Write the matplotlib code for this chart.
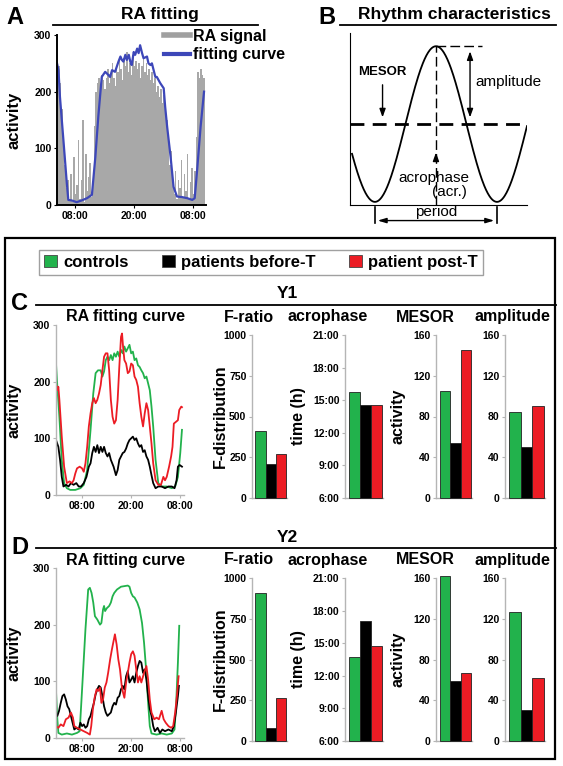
import numpy as np
import matplotlib
matplotlib.use('Agg')
import matplotlib.pyplot as plt
from matplotlib.lines import Line2D
from matplotlib.patches import Rectangle, Patch

# Step 1: data
# panel A: raw RA signal (one bar every 0.3 h, starting 04:18) and fitting curve
ra_signal = [230, 245, 215, 170, 125, 70, 30, 45,
             10, 55, 5, 85, 20, 35, 115, 10, 45, 150, 5, 90, 25, 50, 75, 15, 40,
             140, 200, 215, 225, 210, 230, 220, 205, 225, 240, 215, 230, 250, 225, 210,
             245, 235, 255, 240, 220, 260, 245, 270, 235, 250, 230, 265, 245, 255, 240,
             250, 225, 245, 260, 235, 250, 230, 240, 220, 235, 215, 225, 200, 210, 190,
             205, 180, 195, 170,
             150, 110, 70, 95, 40, 20, 60, 10, 45, 30, 80, 15, 55, 25, 90, 10, 40, 65,
             20, 60, 120,
             235, 225, 240, 230, 225]
fit_hours = [4.3, 4.6, 4.9, 5.6, 6.3, 6.6, 7.3, 8.3, 9.3, 10.4, 11.4, 12.1, 12.7, 13.4,
             14.1, 14.8, 15.1, 15.5, 16.1, 16.8, 17.2, 17.5, 17.8, 18.2, 18.5, 18.9, 19.2,
             19.5, 19.9, 20.2, 20.6, 20.9, 21.2, 21.6, 21.9, 22.6, 22.9, 23.3, 23.6, 24.3,
             24.6, 25.3, 26.0, 26.3, 26.7, 27.4, 28.0, 28.7, 29.7, 30.8, 31.8, 32.3, 32.8,
             33.5, 34.2]
fit_curve = [250, 238, 191, 115, 38, 9, 8, 5, 8, 12, 18, 85, 156, 226, 235, 229, 226, 238,
             235, 253, 262, 256, 253, 265, 256, 265, 253, 247, 270, 265, 276, 268, 282,
             268, 259, 262, 250, 247, 250, 226, 226, 215, 206, 173, 138, 85, 32, 15, 14,
             12, 9, 12, 62, 138, 200]

# panel C (Y1) RA fitting curves
y1_ctrl_h = [1.5, 1.83, 2.33, 2.92, 3.5, 4.17, 5, 6.25, 7.5, 8.33, 9.17, 10, 10.67, 11.25,
             11.83, 12.5, 12.92, 13.33, 13.75, 14.17, 14.58, 15, 15.42, 15.83, 16.25, 16.67,
             17.08, 17.5, 17.92, 18.33, 18.75, 19.17, 19.58, 20, 20.42, 20.83, 21.25, 21.67,
             22.08, 22.5, 22.92, 23.33, 23.75, 24.17, 24.58, 25, 25.42, 26, 26.67, 27.5,
             28.75, 30, 30.83, 31.5, 32.08, 32.5]
y1_ctrl = [232, 191, 138, 62, 21, 12, 9, 9, 12, 18, 44, 115, 179, 215, 220, 220, 209, 218,
           238, 244, 238, 247, 238, 250, 244, 253, 244, 256, 250, 262, 253, 259, 265, 250,
           253, 238, 241, 229, 226, 220, 215, 206, 209, 197, 185, 156, 121, 62, 21, 15,
           15, 12, 15, 32, 74, 115]
y1_post_h = [1.5, 1.83, 2.08, 2.33, 2.92, 3.5, 4.17, 4.83, 5.42, 5.83, 6.25, 6.67, 7.33,
             7.92, 8.33, 8.75, 9.17, 9.58, 10, 10.42, 10.83, 11.25, 11.67, 12.08, 12.5,
             12.92, 13.33, 13.75, 14.17, 14.58, 15, 15.42, 15.83, 16.25, 16.67, 17.08, 17.5,
             17.75, 18, 18.33, 18.75, 19.17, 19.58, 20, 20.42, 20.83, 21.25, 21.67, 22.08,
             22.5, 22.92, 23.33, 23.75, 24.17, 24.58, 25, 25.42, 26, 26.67, 27.33, 27.92,
             28.33, 28.75, 29.33, 29.83, 30.17, 30.5, 31, 31.5, 31.83, 32.33, 32.5]
y1_post = [197, 185, 191, 168, 103, 50, 21, 24, 21, 26, 38, 47, 50, 47, 41, 56, 85, 121,
           144, 162, 171, 162, 168, 179, 194, 220, 244, 250, 250, 220, 168, 138, 126, 132,
           168, 226, 279, 285, 262, 238, 232, 215, 218, 232, 229, 209, 203, 191, 162, 138,
           121, 144, 162, 150, 121, 91, 56, 26, 18, 18, 32, 26, 32, 50, 68, 85, 126, 129,
           132, 150, 156, 155]
y1_pre_h = [1.5, 2.08, 2.5, 2.92, 3.33, 4, 4.58, 5.17, 5.83, 6.5, 7.08, 7.67, 8.33, 9, 9.58,
            10, 10.42, 10.83, 11.25, 11.67, 12.08, 12.5, 12.92, 13.33, 13.75, 14.17, 14.58,
            15, 15.67, 16.25, 16.67, 17.08, 17.5, 17.92, 18.33, 18.75, 19.17, 19.58, 20,
            20.42, 20.83, 21.25, 21.67, 22.08, 22.5, 22.92, 23.33, 23.75, 24.17, 24.58, 25,
            25.42, 26, 26.67, 27.5, 28.33, 29.17, 30, 30.67, 31.17, 31.5, 31.92, 32.5]
y1_pre = [97, 85, 62, 32, 15, 18, 15, 21, 18, 21, 15, 15, 21, 32, 50, 56, 74, 85, 76, 88,
          74, 85, 76, 85, 74, 68, 74, 62, 50, 35, 44, 62, 68, 74, 76, 82, 91, 97, 100, 103,
          97, 100, 91, 85, 88, 76, 79, 68, 62, 50, 35, 21, 12, 15, 15, 12, 15, 15, 12, 26,
          50, 53, 50]

# panel D (Y2) RA fitting curves
y2_ctrl_h = [1.5, 1.83, 2.08, 2.92, 4.17, 5.42, 6.67, 7.33, 7.92, 8.75, 9.42, 9.83, 10.25,
             10.67, 11.08, 11.67, 12.33, 12.67, 13.08, 13.33, 13.58, 14, 14.58, 15, 15.42,
             15.83, 16.5, 17.5, 18.33, 19.17, 19.58, 20, 20.42, 20.83, 21.5, 22.08, 22.67,
             23.17, 23.67, 24.17, 24.58, 25, 26.25, 27.5, 28.75, 30, 30.67, 31.08, 31.5,
             31.83]
y2_ctrl = [83, 33, 9, 6, 8, 6, 9, 12, 86, 192, 262, 265, 256, 239, 215, 209, 200, 203, 227,
           233, 224, 229, 233, 239, 250, 256, 262, 267, 268, 269, 267, 256, 250, 248, 239,
           227, 203, 168, 121, 62, 21, 8, 6, 8, 6, 8, 15, 62, 133, 198]
y2_post_h = [1.5, 2.08, 2.67, 3.33, 3.92, 4.58, 5.17, 5.67, 6, 6.67, 7.5, 8.33, 9.17, 9.83,
             10.17, 10.58, 11, 11.5, 11.92, 12.33, 12.67, 13.08, 13.5, 13.92, 14.33, 14.83,
             15.25, 15.58, 16, 16.42, 16.83, 17.25, 17.67, 18, 18.33, 18.75, 19.17, 19.58,
             20, 20.42, 20.83, 21.25, 21.67, 22.08, 22.5, 23.17, 23.75, 24.17, 24.58, 25,
             25.67, 26.25, 26.83, 27.5, 28, 28.5, 29.17, 29.83, 30.33, 30.83, 31.25, 31.67]
y2_post = [21, 18, 24, 21, 33, 36, 45, 36, 21, 18, 15, 12, 9, 6, 21, 51, 71, 86, 83, 89,
           62, 68, 89, 98, 115, 139, 156, 168, 183, 165, 139, 121, 92, 80, 71, 98, 115, 133,
           148, 153, 145, 121, 98, 109, 98, 115, 127, 103, 68, 45, 33, 36, 33, 48, 33, 27,
           21, 18, 21, 45, 74, 109]
y2_pre_h = [1.5, 1.83, 2.25, 2.67, 3.08, 3.5, 3.92, 4.33, 4.75, 5.17, 5.58, 6, 6.5, 7.08,
            7.5, 7.92, 8.33, 8.75, 9.17, 9.58, 10, 10.42, 10.83, 11.25, 11.67, 12.08, 12.5,
            12.92, 13.33, 13.75, 14.17, 14.58, 15, 15.42, 15.83, 16.25, 16.67, 17.08, 17.5,
            17.92, 18.33, 18.75, 19.17, 19.58, 20, 20.42, 20.83, 21.25, 21.67, 22.08, 22.5,
            22.92, 23.33, 23.75, 24.17, 24.58, 25, 25.42, 25.83, 26.5, 27.08, 27.67, 28.33,
            29.17, 30, 30.5, 31, 31.5, 31.75]
y2_pre = [42, 39, 48, 62, 74, 77, 68, 56, 51, 39, 27, 15, 18, 15, 27, 21, 24, 18, 21, 33,
          39, 51, 62, 77, 86, 92, 89, 74, 56, 45, 39, 42, 45, 56, 62, 59, 71, 74, 86, 92,
          86, 109, 118, 98, 103, 109, 98, 115, 127, 136, 133, 115, 121, 103, 74, 51, 39,
          21, 12, 18, 9, 15, 12, 15, 12, 21, 45, 74, 92]

# rhythm parameters (controls, patients before-T, patient post-T)
groups = ['controls', 'patients before-T', 'patient post-T']
y1_fratio = [410, 210, 270]
y1_acro = [15.75, 14.6, 14.55]
y1_mesor = [105, 54, 145]
y1_amp = [84, 50, 90]
y2_fratio = [905, 80, 265]
y2_acro = [13.7, 17.0, 14.7]
y2_mesor = [162, 59, 67]
y2_amp = [127, 30, 62]

# schematic for panel B (arbitrary units)
b_period = 24
b_acrophase = 12
b_mesor = 0
b_amplitude = 1

clock_ticks = [8, 20, 32]
clock_labels = ['08:00', '20:00', '08:00']
acro_ticks = [6, 9, 12, 15, 18, 21]
acro_labels = ['6:00', '9:00', '12:00', '15:00', '18:00', '21:00']

colors = ['#22b24c', '#000000', '#ec1c24']
gray_spine = '#b5b5b5'

# Step 2: figure and pixel helpers
plt.rcParams['font.family'] = ['Liberation Sans', 'DejaVu Sans']
plt.rcParams['font.weight'] = 'bold'
plt.rcParams['axes.labelweight'] = 'bold'
W, H = 563, 766
fig = plt.figure(figsize=(W / 100, H / 100), dpi=100)


def fx(x):
    return x / W


def fy(y):
    return 1 - y / H


def px_box(l, t, r, b):
    return [l / W, 1 - b / H, (r - l) / W, (b - t) / H]


def hline(x0, x1, y, lw=1.3, color='black'):
    fig.add_artist(Line2D([fx(x0), fx(x1)], [fy(y), fy(y)], color=color, lw=lw))


# Step 3: panel A
fig.text(fx(15), fy(17), 'A', fontsize=17, ha='center', va='center')
fig.text(fx(160), fy(14), 'RA fitting', fontsize=12.5, ha='center', va='center')
hline(53, 258, 25)

axA = fig.add_axes(px_box(57, 35, 206, 205))
sig_hours = 4.3 + 0.3 * np.arange(len(ra_signal))
axA.bar(sig_hours, ra_signal, width=0.3, align='edge', color='#a8a8a8', linewidth=0)
axA.plot(fit_hours, fit_curve, color='#3d47b9', lw=1.6)
axA.set_xlim(4.3, 34.6)
axA.set_ylim(0, 300)
axA.set_yticks([0, 100, 200, 300])
axA.set_xticks(clock_ticks)
axA.set_xticklabels(clock_labels)
axA.tick_params(labelsize=7.5, length=2, width=0.8, pad=2)
for s in ['top', 'right']:
    axA.spines[s].set_visible(False)
axA.spines['left'].set_linewidth(1.4)
axA.spines['bottom'].set_linewidth(1.4)
axA.set_ylabel('activity', fontsize=12)
axA.yaxis.set_label_coords((22 - 57) / 149, 0.5)
axA.legend([Line2D([0], [0], color='#a0a0a0', lw=4), Line2D([0], [0], color='#3d47b9', lw=3)],
           ['RA signal', 'fitting curve'], loc='upper left', frameon=False,
           bbox_to_anchor=(fx(164), fy(29)), bbox_transform=fig.transFigure,
           fontsize=11.5, handlelength=1.6, handletextpad=0.2, labelspacing=0.2,
           borderpad=0, borderaxespad=0)

# Step 4: panel B (rhythm schematic)
fig.text(fx(327), fy(17), 'B', fontsize=17, ha='center', va='center')
fig.text(fx(454), fy(14), 'Rhythm characteristics', fontsize=12.5, ha='center', va='center')
hline(340, 556, 25)

axB = fig.add_axes(px_box(350, 33, 527, 205))
tt = np.linspace(-4.5, 29.9, 300)
axB.plot(tt, b_mesor - b_amplitude * np.cos(2 * np.pi * (tt - b_acrophase + b_period / 2) / b_period),
         color='black', lw=1.3)
axB.set_xlim(-4.9, 29.9)
axB.set_ylim(-1.04, 1.17)
for s in ['top', 'right']:
    axB.spines[s].set_visible(False)
axB.set_xticks([])
axB.set_yticks([])
axB.axhline(b_mesor, color='black', lw=2, dashes=(5, 3))
axB.plot([b_acrophase, b_acrophase], [-1.04, b_amplitude], color='black', lw=1, dashes=(7, 3))
axB.plot([b_acrophase, 21], [b_amplitude, b_amplitude], color='black', lw=1, dashes=(7, 3))
arr = dict(arrowstyle='<|-|>,head_length=0.5,head_width=0.18', color='black', lw=1)
axB.annotate('', xy=(18.7, 0.97), xytext=(18.7, 0.05), arrowprops=arr)
axB.text(19.7, 0.54, 'amplitude', fontsize=11, weight='normal', va='center', ha='left')
axB.text(1.4, 0.67, 'MESOR', fontsize=9.5, va='center', ha='center')
axB.annotate('', xy=(1.5, 0.05), xytext=(1.5, 0.54),
             arrowprops=dict(arrowstyle='-|>,head_length=0.5,head_width=0.18', color='black', lw=1))
axB.annotate('', xy=(b_acrophase, -0.33), xytext=(b_acrophase, -0.48),
             arrowprops=dict(arrowstyle='-|>,head_length=0.5,head_width=0.18', color='black', lw=1))
axB.text(11.6, -0.69, 'acrophase', fontsize=11, weight='normal', va='center', ha='center')
axB.text(14.7, -0.87, '(acr.)', fontsize=11, weight='normal', va='center', ha='center')
for xp in [0, b_period]:
    axB.plot([xp, xp], [-1.06, -1.27], color='black', lw=1.2, clip_on=False)
axB.annotate('', xy=(0, -1.24), xytext=(b_period, -1.24), annotation_clip=False,
             arrowprops=dict(arrowstyle='<|-|>,head_length=0.5,head_width=0.15', color='black', lw=1))
axB.text(12, -1.13, 'period', fontsize=11, weight='normal', va='center', ha='center', clip_on=False)

# Step 5: frame and group legend for C and D
fig.add_artist(Rectangle((fx(5), fy(759)), fx(555) - fx(5), fy(238) - fy(759),
                         transform=fig.transFigure, fill=False, edgecolor='black', lw=1.6))
handles = [Patch(facecolor=c, edgecolor='#444444', lw=0.6) for c in colors]
fig.legend(handles, groups, loc='center', bbox_to_anchor=(fx(261), fy(262)), ncol=3,
           fontsize=12, frameon=True, fancybox=False, edgecolor='#888888',
           handlelength=0.75, handleheight=0.75, handletextpad=0.4, columnspacing=2.0,
           borderpad=0.3)


# Step 6: panels C and D
def gray_axes(ax):
    for s in ['top', 'right']:
        ax.spines[s].set_visible(False)
    for s in ['left', 'bottom']:
        ax.spines[s].set_color(gray_spine)
        ax.spines[s].set_linewidth(1)
    ax.tick_params(labelsize=7.5, length=2.5, width=0.8, color=gray_spine, pad=1.5)


def bar_panel(l, r, t, b, vals, ylim, yticks, ylabels, ylabel=None, label_x=None):
    ax = fig.add_axes(px_box(l, t, r, b))
    heights = [v - ylim[0] for v in vals]
    ax.bar(range(3), heights, bottom=ylim[0], width=1.0, color=colors, edgecolor='#222222',
           linewidth=0.6, clip_on=False, zorder=3)
    ax.set_xlim(-0.83, 2.56)
    ax.set_ylim(*ylim)
    ax.set_yticks(yticks)
    ax.set_yticklabels(ylabels)
    ax.set_xticks([])
    gray_axes(ax)
    if ylabel:
        ax.set_ylabel(ylabel, fontsize=11.5)
        ax.yaxis.set_label_coords((label_x - l) / (r - l), 0.5)
    return ax


rows = [
    ('C', 'Y1', 0, [(y1_ctrl_h, y1_ctrl), (y1_pre_h, y1_pre), (y1_post_h, y1_post)],
     y1_fratio, y1_acro, y1_mesor, y1_amp),
    ('D', 'Y2', 243, [(y2_ctrl_h, y2_ctrl), (y2_pre_h, y2_pre), (y2_post_h, y2_post)],
     y2_fratio, y2_acro, y2_mesor, y2_amp),
]
for letter, year, dy, curves, fr, ac, me, am in rows:
    fig.text(fx(20), fy(304 + dy), letter, fontsize=17, ha='center', va='center')
    fig.text(fx(287), fy(294 + dy), year, fontsize=12.5, ha='center', va='center')
    hline(36, 556, 305 + dy)
    for xc, title in [(126, 'RA fitting curve'), (249, 'F-ratio'), (328, 'acrophase'),
                      (425, 'MESOR'), (512, 'amplitude')]:
        fig.text(fx(xc), fy(317 + dy), title, fontsize=11.5, ha='center', va='center')

    ax = fig.add_axes(px_box(56, 325 + dy, 184, 495 + dy))
    for (hrs, vals), c in zip(curves, colors):
        ax.plot(hrs, vals, color=c, lw=1.3)
    ax.set_xlim(1.5, 33)
    ax.set_ylim(0, 300)
    ax.set_yticks([0, 100, 200, 300])
    ax.set_xticks(clock_ticks)
    ax.set_xticklabels(clock_labels)
    gray_axes(ax)
    ax.set_ylabel('activity', fontsize=11.5)
    ax.yaxis.set_label_coords((22 - 56) / 128, 0.5)

    bar_panel(252, 287, 335 + dy, 498 + dy, fr, (0, 1000), [0, 250, 500, 750, 1000],
              ['0', '250', '500', '750', '1000'], 'F-distribution', 228)
    bar_panel(345, 383, 335 + dy, 498 + dy, ac, (6, 21), acro_ticks, acro_labels,
              'time (h)', 306)
    bar_panel(436, 472, 335 + dy, 498 + dy, me, (0, 160), [0, 40, 80, 120, 160],
              ['0', '40', '80', '120', '160'], 'activity', 405)
    bar_panel(505, 545, 335 + dy, 498 + dy, am, (0, 160), [0, 40, 80, 120, 160],
              ['0', '40', '80', '120', '160'])

fig.savefig('out.png', dpi=100)
